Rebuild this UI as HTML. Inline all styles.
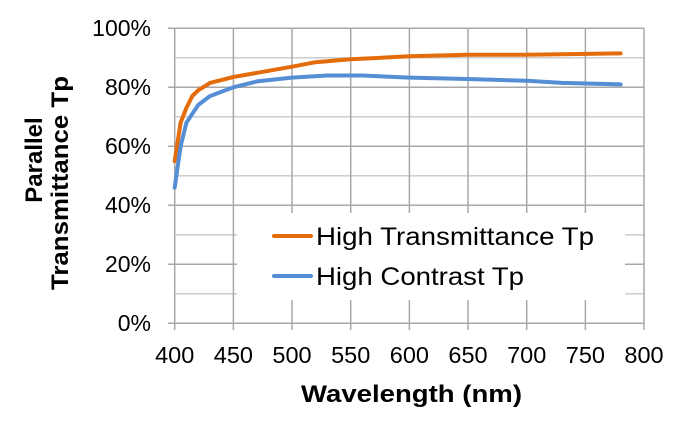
<!DOCTYPE html>
<html><head><style>body{margin:0;background:#fff}svg{display:block}</style></head><body>
<svg width="680" height="421" xmlns="http://www.w3.org/2000/svg" font-family="Liberation Sans, Arial, sans-serif">
<g stroke="#c8c8c8" stroke-width="1.3">
<line x1="175" y1="57.8" x2="644" y2="57.8"/><line x1="175" y1="116.8" x2="644" y2="116.8"/><line x1="175" y1="175.8" x2="644" y2="175.8"/><line x1="175" y1="234.8" x2="644" y2="234.8"/><line x1="175" y1="293.8" x2="644" y2="293.8"/>
</g>
<g stroke="#a8a8a8" stroke-width="1.5">
<line x1="168" y1="28.3" x2="644" y2="28.3"/><line x1="168" y1="87.3" x2="644" y2="87.3"/><line x1="168" y1="146.3" x2="644" y2="146.3"/><line x1="168" y1="205.3" x2="644" y2="205.3"/><line x1="168" y1="264.3" x2="644" y2="264.3"/><line x1="168" y1="323.3" x2="644" y2="323.3"/>
<line x1="174.7" y1="28" x2="174.7" y2="330"/><line x1="233.4" y1="28" x2="233.4" y2="330"/><line x1="292" y1="28" x2="292" y2="330"/><line x1="350.7" y1="28" x2="350.7" y2="330"/><line x1="409.4" y1="28" x2="409.4" y2="330"/><line x1="468" y1="28" x2="468" y2="330"/><line x1="526.7" y1="28" x2="526.7" y2="330"/><line x1="585.4" y1="28" x2="585.4" y2="330"/><line x1="644" y1="28" x2="644" y2="330"/>
</g>
<g fill="none" stroke-width="4" stroke-linecap="round" stroke-linejoin="round">
<polyline stroke="#E46C0A" points="174.7,161.1 180.6,122.7 186.4,107.9 192.3,96.1 198.2,90.3 209.9,82.9 233.4,77 292,66.7 315.5,62.2 350.7,59.3 409.4,56.3 468,54.8 526.7,54.8 620.6,53.4"/>
<polyline stroke="#558ED5" points="174.7,187.6 180.6,146.3 186.4,122.7 198.2,105 209.9,96.1 233.4,87.3 256.9,81.4 292,77.6 327.2,75.5 362.4,75.5 409.4,77.6 468,79 526.7,80.8 561.9,82.9 620.6,84.4"/>
</g>
<rect x="237" y="213" width="388" height="87" fill="#fff"/>
<g font-size="25" fill="#000">
<line x1="274" y1="236" x2="311" y2="236" stroke="#E46C0A" stroke-width="4" stroke-linecap="round"/>
<text x="316" y="245" textLength="278" lengthAdjust="spacingAndGlyphs">High Transmittance Tp</text>
<line x1="274" y1="276" x2="311" y2="276" stroke="#558ED5" stroke-width="4" stroke-linecap="round"/>
<text x="316" y="285" textLength="208" lengthAdjust="spacingAndGlyphs">High Contrast Tp</text>
</g>
<g font-size="23" fill="#000" text-anchor="end">
<text x="151" y="36">100%</text><text x="151" y="95">80%</text><text x="151" y="154">60%</text><text x="151" y="213">40%</text><text x="151" y="272">20%</text><text x="151" y="331">0%</text>
</g>
<g font-size="23.5" fill="#000" text-anchor="middle">
<text x="174.7" y="363">400</text><text x="233.4" y="363">450</text><text x="292" y="363">500</text><text x="350.7" y="363">550</text><text x="409.4" y="363">600</text><text x="468" y="363">650</text><text x="526.7" y="363">700</text><text x="585.4" y="363">750</text><text x="644" y="363">800</text>
</g>
<text x="301" y="402" font-size="24" font-weight="bold" textLength="221" lengthAdjust="spacingAndGlyphs">Wavelength (nm)</text>
<g font-size="24" font-weight="bold" text-anchor="middle">
<text transform="translate(42,160) rotate(-90)">Parallel</text>
<text transform="translate(68,183) rotate(-90)" textLength="214" lengthAdjust="spacingAndGlyphs">Transmittance Tp</text>
</g>
</svg>
</body></html>
